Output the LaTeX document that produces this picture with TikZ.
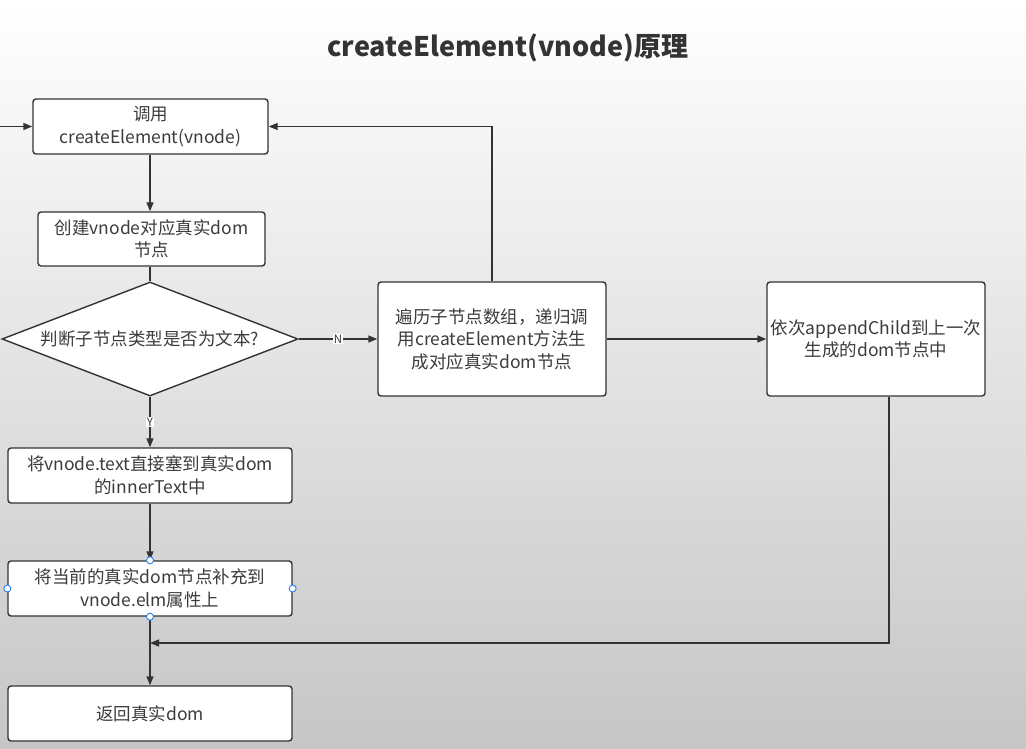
\documentclass[tikz,border=0pt]{standalone}
\usepackage{fontspec}
\setmainfont{Noto Sans CJK SC}
\usetikzlibrary{shapes.geometric,arrows.meta}
\definecolor{linec}{RGB}{51,51,51}
\definecolor{textc}{RGB}{60,60,60}
\definecolor{bgbot}{RGB}{198,198,198}
\definecolor{handleblue}{RGB}{40,130,240}
\tikzset{
  box/.style={draw=linec, line width=1.4pt, rounded corners=3pt, fill=white, align=center,
    text=textc, inner sep=0pt, font=\fontsize{17.5}{22.5}\selectfont},
  arr/.style={draw=linec, line width=1.4pt, -{Triangle[length=9pt,width=7pt]}},
  plain/.style={draw=linec, line width=1.4pt},
  lab/.style={fill=white, inner sep=1pt, text=textc, font=\fontsize{11.5}{13}\selectfont},
  handle/.style={draw=handleblue, fill=white, line width=0.9pt, circle, inner sep=0pt, minimum size=7pt}
}
\begin{document}
\begin{tikzpicture}[x=1pt,y=-1pt]
\shade[top color=white, bottom color=bgbot] (0,0) rectangle (1026,749);
\useasboundingbox (0,0) rectangle (1026,749);

\node[text=linec, font=\fontsize{27}{30}\selectfont\bfseries] (title) at (508,48) {createElement(vnode)原理};

\node[box, minimum width=235pt, minimum height=55pt] (n1) at (150.5,126.5) {调用\\createElement(vnode)};
\node[box, minimum width=227pt, minimum height=54pt] (n2) at (151.5,239) {创建vnode对应真实dom\\节点};
\node[diamond, draw=linec, line width=1.4pt, fill=white, minimum width=296pt, minimum height=114pt, inner sep=0pt] (d) at (150,339) {};
\node[text=textc, font=\fontsize{17.5}{22.5}\selectfont] (dt) at (150,339) {判断子节点类型是否为文本?};
\node[box, minimum width=228pt, minimum height=114pt] (n3) at (492,339) {遍历子节点数组，递归调\\用createElement方法生\\成对应真实dom节点};
\node[box, minimum width=218pt, minimum height=114pt] (n4) at (876,339) {依次appendChild到上一次\\生成的dom节点中};
\node[box, minimum width=284pt, minimum height=55pt] (n5) at (150,475.5) {将vnode.text直接塞到真实dom\\的innerText中};
\node[box, minimum width=284pt, minimum height=55pt] (n6) at (150,588.5) {将当前的真实dom节点补充到\\vnode.elm属性上};
\node[box, minimum width=284pt, minimum height=55pt] (n7) at (150,713.5) {返回真实dom};

\coordinate (in) at (0,126.5);
\coordinate (j) at (150,643);

\draw[arr] (in) -- (n1.west);
\draw[arr] (n1.south -| d.north) -- (n2.north -| d.north);
\draw[plain] (n2.south -| d.north) -- (d.north);
\draw[arr] (d.east) -- node[lab] {N} (n3.west);
\draw[arr] (d.south) -- node[lab] {Y} (n5.north);
\draw[arr] (n3.north) |- (n1.east);
\draw[arr] (n3.east) -- (n4.west);
\draw[arr] ([xshift=13pt]n4.south) |- (j);
\draw[arr] (n5.south) -- (n6.north);
\draw[arr] (n6.south) -- (n7.north);

\node[handle] (h1) at (n6.north) {};
\node[handle] (h2) at (n6.south) {};
\node[handle] (h3) at (n6.west) {};
\node[handle] (h4) at (n6.east) {};
\end{tikzpicture}
\end{document}
